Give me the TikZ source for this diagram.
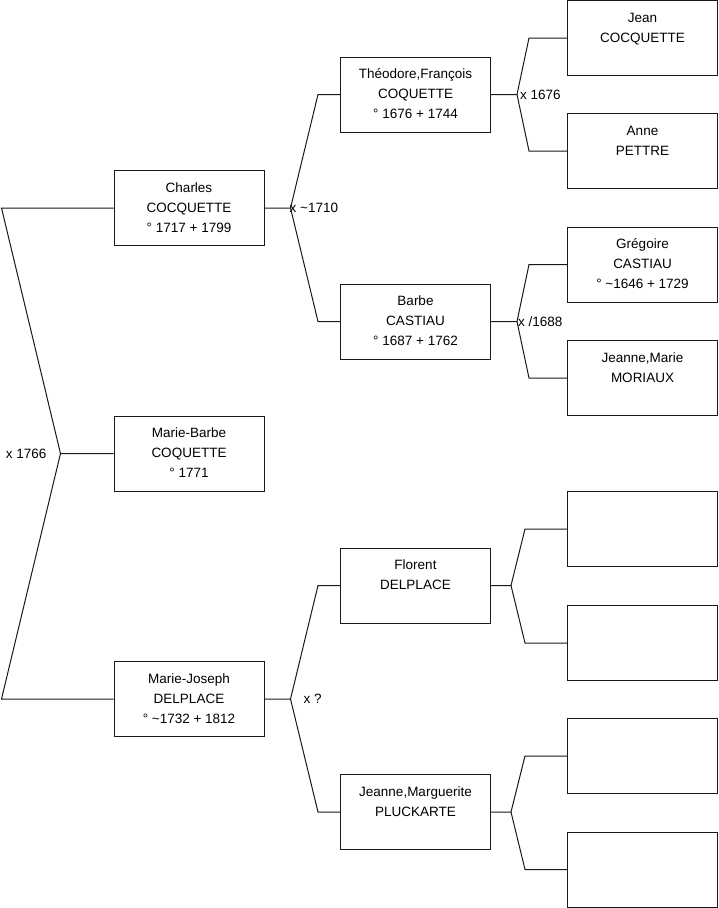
\documentclass[tikz,border=0pt]{standalone}
\usepackage{fontspec}
\setmainfont{Liberation Sans}
\usepackage{tikz}
\usetikzlibrary{positioning}
\newcommand{\who}[1]{\parbox[c][60pt][t]{148pt}{\centering\strut #1}}
\tikzset{
  pers/.style={rectangle, draw=black!90, line width=1pt, minimum width=150,
               minimum height=75, inner sep=0pt, font=\fontsize{13.5}{20}\selectfont},
  link/.style={line width=1pt, black!90},
  wed/.style={inner sep=0pt, font=\fontsize{13.5}{16}\selectfont},
}

\begin{document}
\begin{tikzpicture}[x=1pt, y=-1pt]
  \useasboundingbox (0,0) rectangle (719,908);
  % first generation
  \node[pers] (ch) at (189,208) {\who{Charles\\COCQUETTE\\° 1717 + 1799}};
  \node[pers] (mb) at (189,453.5) {\who{Marie-Barbe\\COQUETTE\\° 1771}};
  \node[pers] (mj) at (189,699) {\who{Marie-Joseph\\DELPLACE\\° \textasciitilde1732 + 1812}};
  % parents
  \node[pers] (theo) at (415.5,94.5) {\who{Théodore,François\\COQUETTE\\° 1676 + 1744}};
  \node[pers] (barbe) at (415.5,321.5) {\who{Barbe\\CASTIAU\\° 1687 + 1762}};
  \node[pers] (flor) at (415.5,585.5) {\who{Florent\\DELPLACE}};
  \node[pers] (jmarg) at (415.5,812) {\who{Jeanne,Marguerite\\PLUCKARTE}};
  % grandparents
  \node[pers] (jean) at (642.5,38) {\who{Jean\\COCQUETTE}};
  \node[pers] (anne) at (642.5,151) {\who{Anne\\PETTRE}};
  \node[pers] (greg) at (642.5,264.5) {\who{Grégoire\\CASTIAU\\° \textasciitilde1646 + 1729}};
  \node[pers] (jmarie) at (642.5,378) {\who{Jeanne,Marie\\MORIAUX}};
  \node[pers] (e1) at (642.5,529) {\who{}};
  \node[pers] (e2) at (642.5,643) {\who{}};
  \node[pers] (e3) at (642.5,756) {\who{}};
  \node[pers] (e4) at (642.5,869.5) {\who{}};
  % forks
  \coordinate (f0) at ([xshift=-53]mb.west);
  \draw[link] (mb.west) -- (f0) -- ([xshift=-112]ch.west) -- (ch.west);
  \draw[link] (f0) -- ([xshift=-112]mj.west) -- (mj.west);
  \node[wed, left=14pt of f0] (w0) {x 1766};

  \coordinate (f1) at ([xshift=26]ch.east);
  \draw[link] (ch.east) -- (f1) -- ([xshift=-22]theo.west) -- (theo.west);
  \draw[link] (f1) -- ([xshift=-22]barbe.west) -- (barbe.west);
  \node[wed, right=-1pt of f1] (w1) {x \textasciitilde1710};

  \coordinate (f2) at ([xshift=26]mj.east);
  \draw[link] (mj.east) -- (f2) -- ([xshift=-22]flor.west) -- (flor.west);
  \draw[link] (f2) -- ([xshift=-22]jmarg.west) -- (jmarg.west);
  \node[wed, right=13pt of f2] (w2) {x ?};

  \coordinate (f3) at ([xshift=26]theo.east);
  \draw[link] (theo.east) -- (f3) -- ([xshift=-38]jean.west) -- (jean.west);
  \draw[link] (f3) -- ([xshift=-38]anne.west) -- (anne.west);
  \node[wed, right=3pt of f3] (w3) {x 1676};

  \coordinate (f4) at ([xshift=26]barbe.east);
  \draw[link] (barbe.east) -- (f4) -- ([xshift=-38]greg.west) -- (greg.west);
  \draw[link] (f4) -- ([xshift=-38]jmarie.west) -- (jmarie.west);
  \node[wed, right=1pt of f4] (w4) {x /1688};

  \coordinate (f5) at ([xshift=20]flor.east);
  \draw[link] (flor.east) -- (f5) -- ([xshift=-42]e1.west) -- (e1.west);
  \draw[link] (f5) -- ([xshift=-42]e2.west) -- (e2.west);

  \coordinate (f6) at ([xshift=20]jmarg.east);
  \draw[link] (jmarg.east) -- (f6) -- ([xshift=-42]e3.west) -- (e3.west);
  \draw[link] (f6) -- ([xshift=-42]e4.west) -- (e4.west);
\end{tikzpicture}
\end{document}
